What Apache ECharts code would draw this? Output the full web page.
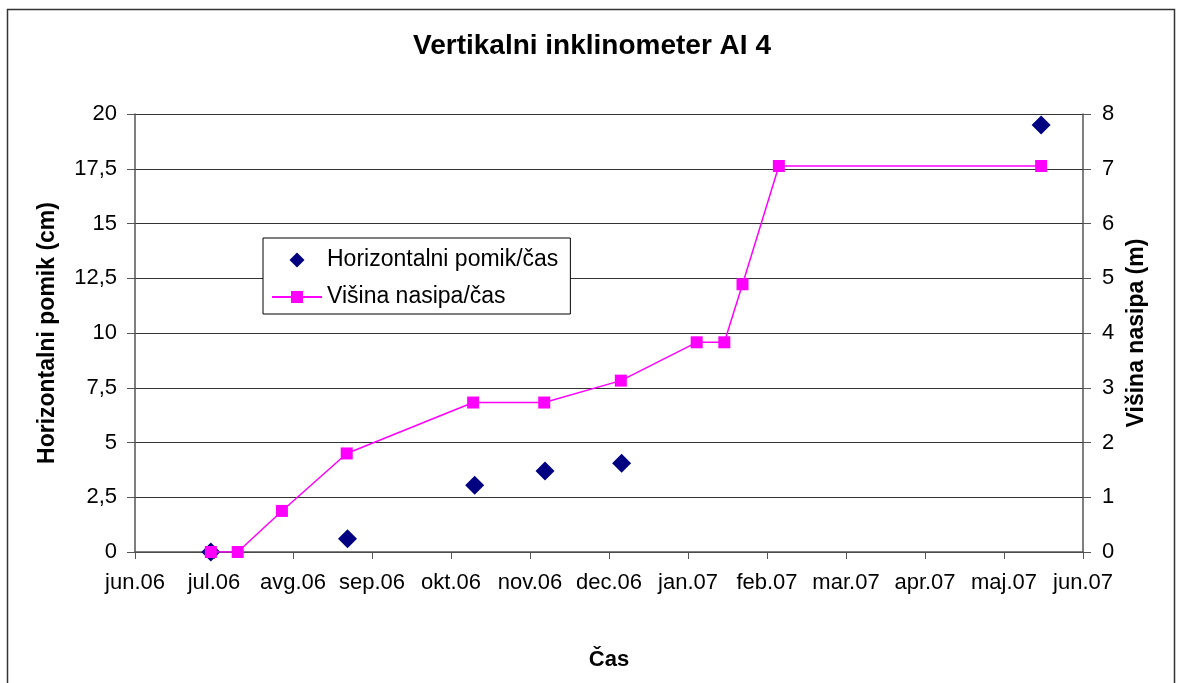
<!DOCTYPE html>
<html>
<head>
<meta charset="utf-8">
<script src="https://cdn.jsdelivr.net/npm/echarts@6/dist/echarts.min.js"></script>
<style>
  html, body { margin: 0; padding: 0; background: #fff; }
  #chart { width: 1184px; height: 683px; }
</style>
</head>
<body>
<div id="chart"></div>
<script>
// mjeseci na osi x (0 = jun.06, 12 = jun.07)
const monthLabels = ['jun.06', 'jul.06', 'avg.06', 'sep.06', 'okt.06', 'nov.06', 'dec.06',
  'jan.07', 'feb.07', 'mar.07', 'apr.07', 'maj.07', 'jun.07'];

// horizontalni pomik (cm) - lijeva os
const pomikX = [0.96, 2.69, 4.30, 5.19, 6.16, 11.47];
const pomikY = [0, 0.6, 3.05, 3.7, 4.05, 19.5];

// visina nasipa (m) - desna os
const nasipX = [0.96, 1.30, 1.86, 2.68, 4.28, 5.18, 6.15, 7.11, 7.46, 7.69, 8.15, 11.47];
const nasipY = [0, 0, 0.75, 1.8, 2.73, 2.73, 3.13, 3.83, 3.83, 4.89, 7.05, 7.05];

const font = "'Liberation Sans', Arial, sans-serif";
const diamondPath = 'path://M0,-1L1,0L0,1L-1,0Z';
const chart = echarts.init(document.getElementById('chart'));

chart.setOption({
  animation: false,
  backgroundColor: '#fff',
  textStyle: { fontFamily: font },
  title: {
    text: 'Vertikalni inklinometer AI 4',
    left: 'center', top: 27,
    textStyle: { fontFamily: font, fontSize: 28, fontWeight: 'bold', color: '#000' }
  },
  graphic: [{
    type: 'rect',
    shape: { x: 7.5, y: 9.5, width: 1167, height: 700 },
    style: { fill: 'none', stroke: '#333', lineWidth: 1.5 },
    silent: true
  }],
  legend: {
    orient: 'vertical', left: 263, top: 238,
    backgroundColor: '#fff', borderColor: '#000', borderWidth: 1,
    padding: [10, 12, 5, 8], itemGap: 13,
    itemWidth: 50, itemHeight: 15, symbolKeepAspect: true,
    textStyle: { fontFamily: font, fontSize: 23, color: '#000', lineHeight: 24 },
    data: [
      { name: 'Horizontalni pomik/čas', icon: diamondPath },
      { name: 'Višina nasipa/čas' }
    ]
  },
  grid: { left: 135, right: 101, top: 114, bottom: 131 },
  xAxis: {
    type: 'value', min: 0, max: 12, interval: 1,
    name: 'Čas', nameLocation: 'middle', nameGap: 97,
    nameTextStyle: { fontFamily: font, fontSize: 22, fontWeight: 'bold', color: '#000' },
    axisLine: { lineStyle: { color: '#555', width: 1.5 } },
    axisTick: { length: 7, lineStyle: { color: '#555' } },
    axisLabel: {
      margin: 20, fontFamily: font, fontSize: 22, color: '#000',
      formatter: v => monthLabels[v] || ''
    },
    splitLine: { show: false }
  },
  yAxis: [{
    type: 'value', min: 0, max: 20, interval: 2.5,
    name: 'Horizontalni pomik (cm)', nameLocation: 'middle', nameGap: 76,
    nameTextStyle: { fontFamily: font, fontSize: 23, fontWeight: 'bold', color: '#000' },
    axisLine: { show: true, lineStyle: { color: '#555', width: 1.5 } },
    axisTick: { show: true, length: 8, lineStyle: { color: '#555' } },
    axisLabel: {
      margin: 18, fontFamily: font, fontSize: 22, color: '#000',
      formatter: v => String(v).replace('.', ',')
    },
    splitLine: { lineStyle: { color: '#333', width: 1.2 } }
  }, {
    type: 'value', min: 0, max: 8, interval: 1, position: 'right',
    name: 'Višina nasipa (m)', nameLocation: 'middle', nameGap: 42,
    nameTextStyle: { fontFamily: font, fontSize: 23, fontWeight: 'bold', color: '#000' },
    axisLine: { show: true, lineStyle: { color: '#555', width: 1.5 } },
    axisTick: { show: true, length: 8, lineStyle: { color: '#555' } },
    axisLabel: { margin: 19, fontFamily: font, fontSize: 22, color: '#000' },
    splitLine: { show: false }
  }],
  series: [{
    name: 'Horizontalni pomik/čas', type: 'scatter', yAxisIndex: 0,
    symbol: 'diamond', symbolSize: 19,
    itemStyle: { color: '#000080', opacity: 1 },
    data: pomikX.map((x, i) => [x, pomikY[i]])
  }, {
    name: 'Višina nasipa/čas', type: 'line', yAxisIndex: 1,
    symbol: 'rect', symbolSize: 12, z: 3,
    lineStyle: { color: '#ff00ff', width: 1.5 },
    itemStyle: { color: '#ff00ff' },
    data: nasipX.map((x, i) => [x, nasipY[i]])
  }]
});
</script>
</body>
</html>
